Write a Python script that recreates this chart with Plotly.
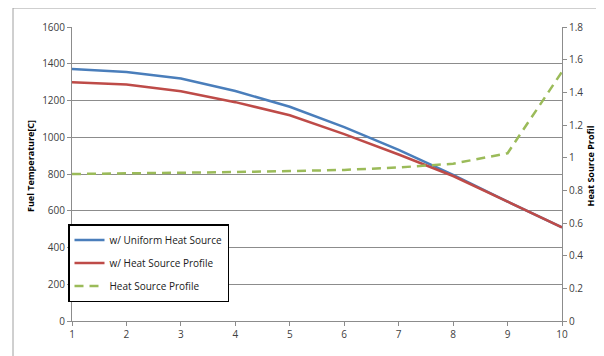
import plotly.graph_objects as go

x_vals = [1, 2, 3, 4, 5, 6, 7, 8, 9, 10]
uniform_temp = [1371, 1355, 1320, 1252, 1166, 1055, 931, 795, 650, 510]
profile_temp = [1300, 1287, 1250, 1191, 1120, 1017, 906, 789, 650, 510]
heat_profile = [0.9, 0.903, 0.905, 0.912, 0.918, 0.925, 0.94, 0.963, 1.027, 1.526]

font_family = "Open Sans, Liberation Sans, sans-serif"
grid_col = "#8c8c8c"
axis_col = "#8c8c8c"

# page body has an 8px default margin: the figure is drawn 8px right/down
OFF = 8
W, H = 604 - OFF, 356 - OFF
L, R, T, B = 72 - OFF, 42, 27 - OFF, 35
pw, ph = W - L - R, H - T - B


def px_x(xw):
    return (xw - OFF - L) / pw


def px_y(yw):
    return (H - B - (yw - OFF)) / ph


fig = go.Figure()
fig.add_trace(go.Scatter(x=x_vals, y=uniform_temp, mode="lines", name="w/ Uniform Heat Source",
                         line=dict(color="#4A7EBB", width=2.5), legendgroup="a"))
fig.add_trace(go.Scatter(x=x_vals, y=profile_temp, mode="lines", name="w/ Heat Source Profile",
                         line=dict(color="#BE4B48", width=2.5), legendgroup="b"))
fig.add_trace(go.Scatter(x=x_vals, y=heat_profile, mode="lines", name="Heat Source Profile",
                         line=dict(color="#9BBB59", width=2.5, dash="9px,6px"), yaxis="y2", legendgroup="c"))

fig.update_layout(
    width=W, height=H,
    margin=dict(l=L, r=R, t=T, b=B, autoexpand=False),
    paper_bgcolor="white", plot_bgcolor="white",
    font=dict(family=font_family, size=10, color="#404040"),
    showlegend=True,
    legend=dict(x=px_x(68), y=px_y(224), xanchor="left", yanchor="top",
                bgcolor="white", bordercolor="black", borderwidth=1.5,
                font=dict(size=10, color="#202020"), traceorder="grouped",
                tracegroupgap=4, itemwidth=30),
    xaxis=dict(range=[1, 10], tickvals=x_vals, showgrid=False, zeroline=False,
               showline=True, linecolor=axis_col, linewidth=1,
               ticks="outside", ticklen=4, tickcolor=axis_col, tickfont=dict(size=10)),
    yaxis=dict(range=[0, 1600], dtick=200, showgrid=True, gridcolor=grid_col, gridwidth=1,
               zeroline=False, showline=True, linecolor=axis_col, linewidth=1,
               ticks="outside", ticklen=4, tickcolor=axis_col, tickfont=dict(size=10)),
    yaxis2=dict(range=[0, 1.8], dtick=0.2, overlaying="y", side="right", showgrid=False,
                zeroline=False, showline=True, linecolor=axis_col, linewidth=1,
                ticks="outside", ticklen=4, tickcolor=axis_col, tickfont=dict(size=10)),
    annotations=[
        dict(text="<b>Fuel Temperature[C]</b>", x=px_x(30), y=px_y(166), xref="paper", yref="paper",
             xanchor="center", yanchor="middle",
             showarrow=False, textangle=-90, font=dict(size=9, color="black")),
        dict(text="<b>Heat Source Profil</b>", x=px_x(598), y=px_y(166), xref="paper", yref="paper",
             xanchor="right", yanchor="middle",
             showarrow=False, textangle=-90, font=dict(size=9, color="black")),
    ],
)

fig.add_shape(type="rect", xref="paper", yref="paper",
              x0=px_x(13), x1=px_x(640), y0=px_y(380), y1=px_y(8),
              line=dict(color="#a0a0a0", width=1), fillcolor="rgba(0,0,0,0)", layer="below")

fig.write_html("out.html")
